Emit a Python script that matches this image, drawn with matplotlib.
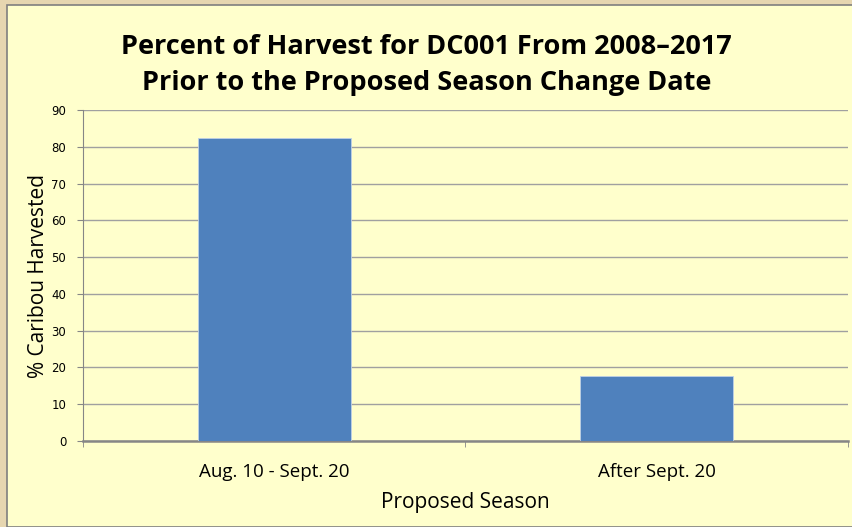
import matplotlib
matplotlib.use("Agg")
import matplotlib.pyplot as plt
from matplotlib.patches import Rectangle

# data
categories = ["Aug. 10 - Sept. 20", "After Sept. 20"]
percent_harvested = [82.3, 17.7]
y_ticks = list(range(0, 100, 10))

PANEL = "#FFFFCC"
PARCHMENT = "#E6D6B0"
BAR = "#4F81BD"

fig = plt.figure(figsize=(8.53, 5.27), dpi=100)
fig.patch.set_facecolor(PARCHMENT)

# inner cream panel with a thin grey border
W, H = 853, 527
fig.patches.append(Rectangle((7 / W, 0), 1, 1 - 5 / H, transform=fig.transFigure,
                             facecolor=PANEL, edgecolor="#7F7F7F", linewidth=1.2,
                             zorder=-1))

ax = fig.add_axes([83 / W, 1 - 441 / H, (848 - 83) / W, (441 - 110) / H])
ax.set_facecolor(PANEL)

x = range(len(categories))
ax.bar(x, percent_harvested, width=0.4, color=BAR, edgecolor="#BFD0E6",
       linewidth=0.6, zorder=3)

ax.set_xlim(-0.5, 1.5)
ax.set_ylim(0, 90)
ax.set_yticks(y_ticks)
ax.set_xticks(list(x))
ax.set_xticklabels(categories, fontsize=13.5, family="Open Sans")
ax.set_xticks([-0.5, 0.5, 1.5], minor=True)
ax.tick_params(axis="x", which="major", length=0, pad=16)
ax.tick_params(axis="x", which="minor", length=4, color="#868686", direction="out")
ax.tick_params(axis="y", length=4, color="#868686", labelsize=8.5, pad=8)

ax.grid(axis="y", color="#A0A0A0", linewidth=1.0, zorder=0)
for side in ["top", "right"]:
    ax.spines[side].set_visible(False)
ax.spines["left"].set_color("#868686")
ax.spines["bottom"].set_color("#868686")
ax.spines["bottom"].set_linewidth(1.8)

ax.set_ylabel("% Caribou Harvested", fontsize=15, family="Open Sans", labelpad=2)
ax.set_xlabel("Proposed Season", fontsize=15, family="Open Sans", labelpad=8)

fig.text(0.5, 1 - 65 / H, "Percent of Harvest for DC001 From 2008\u20132017\nPrior to the Proposed Season Change Date",
         ha="center", va="center", fontsize=19.5, fontweight="bold", family="Open Sans",
         linespacing=1.5)

fig.savefig("out.png", dpi=100, facecolor=fig.get_facecolor())
